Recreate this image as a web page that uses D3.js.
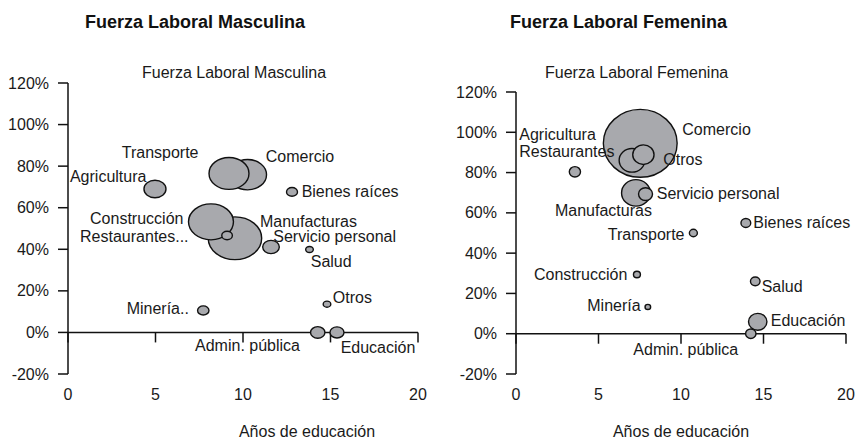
<!DOCTYPE html>
<html>
<head>
<meta charset="utf-8">
<script src="https://cdn.jsdelivr.net/npm/d3@7"></script>
<style>
  html, body { margin: 0; padding: 0; background: #fff; }
  svg { display: block; font-family: "Liberation Sans", Arial, sans-serif; }
  .lbl { font-size: 16px; fill: #1a1a1a; }
  .tick-lbl { font-size: 16px; fill: #1a1a1a; }
</style>
</head>
<body>
<svg id="chart" width="856" height="439"></svg>
<script>
// --- data: masculine labour force ---
const sectoresM = ["Comercio", "Transporte", "Manufacturas", "Construcción", "Restaurantes...",
  "Agricultura", "Bienes raíces", "Servicio personal", "Salud", "Minería..", "Otros",
  "Admin. pública", "Educación"];
const educM = [10.26, 9.2, 9.54, 8.17, 9.09, 4.97, 12.8, 11.6, 13.8, 7.73, 14.8, 14.27, 15.37];
const fuerzaM = [75.9, 76.5, 45.3, 53.2, 46.6, 69.0, 67.6, 41.1, 39.9, 10.6, 13.6, 0.0, 0.0];
const pesoM = [11.9, 13.2, 23.6, 16.7, 0.93, 4.0, 1.0, 2.28, 0.48, 1.07, 0.48, 1.71, 1.62];
// label anchors (data units: years, %)
const etqXM = [11.3, 3.07, 10.97, 1.26, 0.69, 0.11, 13.35, 11.73, 13.87, 3.35, 15.13, 7.26, 15.58];
const etqYM = [82.1, 83.9, 50.7, 52.0, 43.5, 72.3, 65.2, 43.5, 31.5, 9.0, 14.1, -9.0, -10.0];

// --- data: feminine labour force ---
const sectoresF = ["Comercio", "Restaurantes", "Otros", "Manufacturas", "Servicio personal",
  "Agricultura", "Bienes raíces", "Transporte", "Construcción", "Salud", "Minería",
  "Educación", "Admin. pública"];
const educF = [7.53, 7.03, 7.72, 7.27, 7.85, 3.57, 13.93, 10.75, 7.33, 14.5, 7.99, 14.65, 14.23];
const fuerzaF = [94.5, 86.1, 88.9, 69.9, 69.3, 80.4, 55.0, 50.0, 29.4, 26.0, 13.3, 5.9, 0.0];
const pesoF = [45, 5.46, 3.75, 6.85, 1.62, 1.04, 0.79, 0.53, 0.40, 0.76, 0.26, 2.8, 0.89];
const etqXF = [10.08, 0.2, 8.93, 2.36, 8.53, 0.2, 14.38, 5.56, 1.09, 14.89, 4.32, 15.44, 7.11];
const etqYF = [98.8, 87.7, 83.6, 58.2, 66.9, 96.3, 52.5, 46.3, 26.8, 20.5, 11.1, 4.0, -10.4];

const xTicks = [0, 5, 10, 15, 20];
const yTicks = [-20, 0, 20, 40, 60, 80, 100, 120];

const svg = d3.select("#chart");
const rScale = d3.scaleSqrt().domain([0, 50]).range([0, 5.5 * Math.sqrt(50)]);

function panel(opt) {
  const x = d3.scaleLinear().domain([0, 20]).range(opt.xr);
  const y = d3.scaleLinear().domain([-20, 120]).range(opt.yr);
  const g = svg.append("g");

  // titles
  g.append("text").attr("x", opt.titleX).attr("y", 28)
    .style("font-size", "18px").style("font-weight", "bold").attr("fill", "#111")
    .text(opt.title);
  g.append("text").attr("class", "lbl").attr("x", opt.subX).attr("y", 78).text(opt.title);

  // y axis
  g.append("line").attr("x1", x(0)).attr("x2", x(0)).attr("y1", y(120)).attr("y2", y(-20))
    .attr("stroke", "#111").attr("stroke-width", 1.5);
  yTicks.forEach(t => {
    g.append("line").attr("x1", x(0) - 10).attr("x2", x(0)).attr("y1", y(t)).attr("y2", y(t))
      .attr("stroke", "#111").attr("stroke-width", 1.5);
    g.append("text").attr("class", "tick-lbl").attr("text-anchor", "end")
      .attr("x", x(0) - 19).attr("y", y(t) + 5.5).text(t + "%");
  });

  // x axis at 0%
  g.append("line").attr("x1", x(0)).attr("x2", x(20)).attr("y1", y(0)).attr("y2", y(0))
    .attr("stroke", "#111").attr("stroke-width", 1.5);
  xTicks.forEach(t => {
    g.append("line").attr("x1", x(t)).attr("x2", x(t)).attr("y1", y(0)).attr("y2", y(0) + 10)
      .attr("stroke", "#111").attr("stroke-width", 1.5);
    g.append("text").attr("class", "tick-lbl").attr("text-anchor", "middle")
      .attr("x", x(t)).attr("y", y(-20) + 26).text(t);
  });
  g.append("text").attr("class", "lbl").attr("text-anchor", "middle")
    .attr("x", opt.axisTitleX).attr("y", 437).text("Años de educación");

  // bubbles
  const rows = opt.names.map((n, i) => ({
    n, ex: opt.ed[i], fy: opt.fz[i], p: opt.peso[i], lx: opt.lx[i], ly: opt.ly[i]
  }));
  g.selectAll("ellipse").data(rows).enter().append("ellipse")
    .attr("cx", d => x(d.ex)).attr("cy", d => y(d.fy))
    .attr("rx", d => rScale(d.p)).attr("ry", d => rScale(d.p) * opt.aspect)
    .attr("fill", "#a8a9ad").attr("stroke", "#111").attr("stroke-width", 1.4);

  g.selectAll("text.pt").data(rows).enter().append("text")
    .attr("class", "lbl pt").attr("x", d => x(d.lx)).attr("y", d => y(d.ly))
    .text(d => d.n);
}

panel({
  title: "Fuerza Laboral Masculina", titleX: 85, subX: 142, axisTitleX: 307,
  xr: [68, 418], yr: [374, 83], aspect: 0.8,
  names: sectoresM, ed: educM, fz: fuerzaM, peso: pesoM, lx: etqXM, ly: etqYM
});
panel({
  title: "Fuerza Laboral Femenina", titleX: 510, subX: 545, axisTitleX: 681,
  xr: [516, 846], yr: [374, 92], aspect: 0.92,
  names: sectoresF, ed: educF, fz: fuerzaF, peso: pesoF, lx: etqXF, ly: etqYF
});
</script>
</body>
</html>
